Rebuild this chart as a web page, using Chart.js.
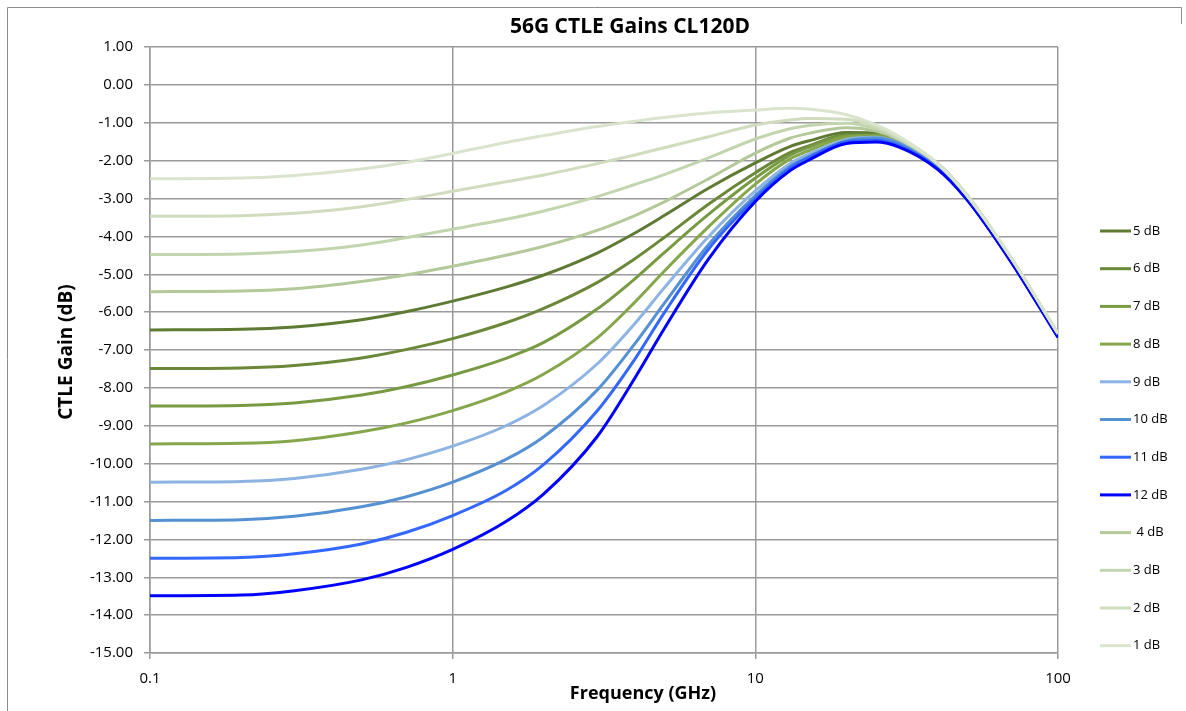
<!DOCTYPE html>
<html>
<head>
<meta charset="utf-8">
<title>56G CTLE Gains CL120D</title>
<script src="https://cdn.jsdelivr.net/npm/chart.js@4/dist/chart.umd.min.js"></script>
<style>
  html, body { margin: 0; padding: 0; background: #fff; }
  canvas { display: block; }
</style>
</head>
<body>
<canvas id="ctle-chart" width="1186" height="711"></canvas>
<script>
'use strict';

const TITLE = '56G CTLE Gains CL120D',
  X_TITLE = 'Frequency (GHz)',
  Y_TITLE = 'CTLE Gain (dB)',
  FONT = '"Open Sans", "Liberation Sans", sans-serif',
  GRID_COLOR = '#9a9a9a';

// frequency points (GHz)
const FREQ = [0.1, 0.2, 0.3, 0.5, 0.7, 1, 1.5, 2, 3, 4, 5, 7, 10, 13, 15, 20, 25, 30, 40, 50, 70, 100];

const X_TICKS = [0.1, 1, 10, 100];

const LABELS = ['5 dB', '6 dB', '7 dB', '8 dB', '9 dB', '10 dB', '11 dB', '12 dB', ' 4 dB', '3 dB', '2 dB', '1 dB'];

const COLORS = ['#5f7a32', '#6a8838', '#789a42', '#86a64c', '#8db3e2', '#5590d3', '#3467ff', '#0000ff',
  '#b4c99a', '#c3d5ae', '#cfdcbe', '#d9e4cc'];

// gain (dB) per setting, one value per FREQ point
const GAIN_5DB = [-6.47, -6.455, -6.39, -6.20, -5.99, -5.71, -5.34, -5.02, -4.44, -3.91, -3.45, -2.73, -2.06, -1.63, -1.48, -1.26, -1.27, -1.47, -2.07, -2.91, -4.59, -6.59];
const GAIN_6DB = [-7.49, -7.475, -7.41, -7.21, -6.99, -6.70, -6.28, -5.90, -5.22, -4.59, -4.03, -3.15, -2.32, -1.79, -1.61, -1.32, -1.32, -1.51, -2.10, -2.93, -4.60, -6.60];
const GAIN_7DB = [-8.48, -8.465, -8.40, -8.19, -7.97, -7.66, -7.22, -6.80, -5.92, -5.12, -4.43, -3.42, -2.46, -1.86, -1.65, -1.34, -1.33, -1.52, -2.10, -2.93, -4.61, -6.61];
const GAIN_8DB = [-9.48, -9.465, -9.395, -9.16, -8.93, -8.60, -8.11, -7.635, -6.685, -5.735, -4.92, -3.75, -2.62, -1.96, -1.74, -1.38, -1.35, -1.53, -2.12, -2.94, -4.62, -6.62];
const GAIN_9DB = [-10.49, -10.47, -10.39, -10.15, -9.90, -9.54, -9.00, -8.46, -7.37, -6.30, -5.36, -4.01, -2.80, -2.08, -1.83, -1.44, -1.38, -1.54, -2.14, -2.97, -4.63, -6.63];
const GAIN_10DB = [-11.50, -11.48, -11.39, -11.14, -10.88, -10.49, -9.89, -9.29, -8.06, -6.83, -5.77, -4.22, -2.92, -2.16, -1.90, -1.48, -1.40, -1.55, -2.17, -2.99, -4.64, -6.64];
const GAIN_11DB = [-12.50, -12.48, -12.38, -12.12, -11.82, -11.37, -10.71, -10.02, -8.61, -7.24, -6.02, -4.34, -3.00, -2.20, -1.92, -1.50, -1.46, -1.61, -2.20, -3.02, -4.66, -6.66];
const GAIN_12DB = [-13.49, -13.47, -13.355, -13.07, -12.745, -12.265, -11.53, -10.80, -9.29, -7.74, -6.44, -4.60, -3.08, -2.27, -1.99, -1.55, -1.51, -1.65, -2.23, -3.03, -4.68, -6.67];
const GAIN_4DB = [-5.46, -5.445, -5.38, -5.19, -5.02, -4.79, -4.50, -4.26, -3.84, -3.45, -3.09, -2.48, -1.80, -1.41, -1.28, -1.13, -1.22, -1.45, -2.09, -2.90, -4.57, -6.57];
const GAIN_3DB = [-4.48, -4.465, -4.40, -4.225, -4.035, -3.81, -3.55, -3.33, -2.95, -2.63, -2.37, -1.93, -1.43, -1.16, -1.07, -1.01, -1.16, -1.44, -2.09, -2.92, -4.57, -6.57];
const GAIN_2DB = [-3.47, -3.455, -3.39, -3.215, -3.03, -2.81, -2.56, -2.38, -2.08, -1.85, -1.66, -1.37, -1.06, -0.93, -0.89, -0.905, -1.10, -1.41, -2.08, -2.92, -4.57, -6.57];
const GAIN_1DB = [-2.48, -2.46, -2.39, -2.22, -2.05, -1.81, -1.52, -1.34, -1.10, -0.96, -0.86, -0.74, -0.665, -0.62, -0.64, -0.79, -1.05, -1.37, -2.07, -2.91, -4.56, -6.56];

const SERIES = [GAIN_5DB, GAIN_6DB, GAIN_7DB, GAIN_8DB, GAIN_9DB, GAIN_10DB, GAIN_11DB, GAIN_12DB,
  GAIN_4DB, GAIN_3DB, GAIN_2DB, GAIN_1DB];

function buildDatasets() {
  const datasets = [];
  for (let i = 0; i < SERIES.length; i++) {
    datasets.push({
      label: LABELS[i],
      data: FREQ.map((f, j) => ({ x: f, y: SERIES[i][j] })),
      borderColor: COLORS[i],
      backgroundColor: COLORS[i],
      borderWidth: 3,
      pointRadius: 0,
      cubicInterpolationMode: 'monotone',
      fill: false,
      // later series sit on top, like the original sheet
      order: SERIES.length - i
    });
  }
  return datasets;
}

// title, axis titles, frame and the legend column
const decorPlugin = {
  id: 'decor',
  afterDraw(chart) {
    const ctx = chart.ctx;
    ctx.save();

    ctx.strokeStyle = '#8c8c8c';
    ctx.lineWidth = 1;
    ctx.beginPath();
    ctx.moveTo(7.5, 711);
    ctx.lineTo(7.5, 7.5);
    ctx.lineTo(1181.5, 7.5);
    ctx.lineTo(1181.5, 24);
    ctx.stroke();

    ctx.fillStyle = '#000';
    ctx.textAlign = 'center';
    ctx.textBaseline = 'middle';
    ctx.font = 'bold 21px ' + FONT;
    ctx.fillText(TITLE, 630, 27);

    ctx.font = 'bold 18px ' + FONT;
    ctx.fillText(X_TITLE, 643, 694);

    ctx.save();
    ctx.translate(67, 352);
    ctx.rotate(-Math.PI / 2);
    ctx.font = 'bold 19px ' + FONT;
    ctx.fillText(Y_TITLE, 0, 0);
    ctx.restore();

    ctx.font = '13px ' + FONT;
    ctx.textAlign = 'left';
    chart.data.datasets.forEach(function (ds, i) {
      const y = 231 + i * 37.7;
      ctx.strokeStyle = ds.borderColor;
      ctx.lineWidth = 3;
      ctx.beginPath();
      ctx.moveTo(1100, y);
      ctx.lineTo(1131, y);
      ctx.stroke();
      ctx.fillStyle = '#000';
      ctx.fillText(ds.label, 1133, y);
    });

    ctx.restore();
  }
};

new Chart(document.getElementById('ctle-chart'), {
  type: 'line',
  data: { datasets: buildDatasets() },
  options: {
    responsive: false,
    animation: false,
    devicePixelRatio: 1,
    layout: { padding: { left: 0, top: 47, right: 128, bottom: 0 } },
    plugins: {
      legend: { display: false },
      title: { display: false },
      tooltip: { enabled: false }
    },
    scales: {
      x: {
        type: 'logarithmic',
        min: 0.1,
        max: 100,
        afterBuildTicks: function (scale) {
          scale.ticks = X_TICKS.map(v => ({ value: v }));
        },
        afterFit: function (scale) { scale.height = 58; },
        grid: { color: GRID_COLOR, lineWidth: 1.5, tickLength: 6 },
        border: { color: GRID_COLOR, width: 1.5 },
        ticks: {
          color: '#000',
          font: { family: FONT, size: 15 },
          padding: 11,
          maxRotation: 0,
          autoSkip: false,
          callback: v => String(v)
        }
      },
      y: {
        type: 'linear',
        min: -15,
        max: 1,
        afterFit: function (scale) { scale.width = 150; },
        grid: { color: GRID_COLOR, lineWidth: 1.5, tickLength: 6 },
        border: { color: GRID_COLOR, width: 1.5 },
        ticks: {
          stepSize: 1,
          color: '#000',
          font: { family: FONT, size: 15 },
          padding: 11,
          callback: v => v.toFixed(2)
        }
      }
    }
  },
  plugins: [decorPlugin]
});
</script>
</body>
</html>
